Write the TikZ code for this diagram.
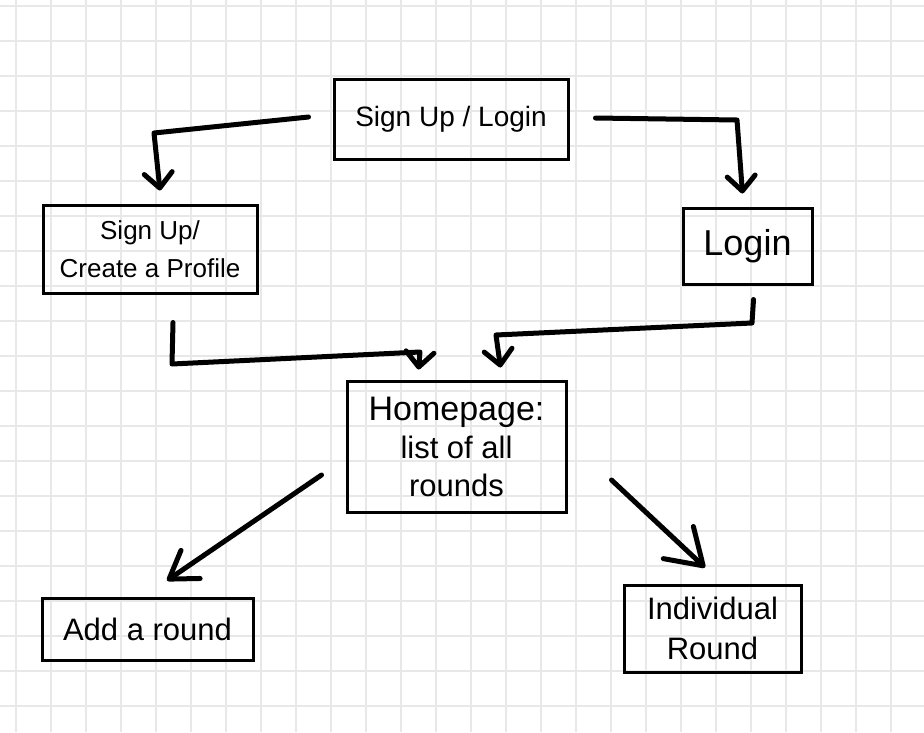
\documentclass[tikz,border=0pt]{standalone}
\usepackage{fontspec}
\setmainfont{Liberation Sans}
\usetikzlibrary{arrows.meta}
\definecolor{gridgray}{RGB}{232,232,232}

\begin{document}
\begin{tikzpicture}[
    x=1pt, y=-1pt,
    box/.style={rectangle, draw, line width=3pt, inner sep=0pt, align=center},
    flow/.style={line width=5pt, line cap=round, line join=round,
                 -{Straight Barb[round, length=15pt, width=28pt]}},
    gridline/.style={gridgray, line width=1.5pt}
]
\fill[white] (0,0) rectangle (924,732);
\useasboundingbox (0,0) rectangle (924,732);
\foreach \gx in {0,...,26}
    \draw[gridline] (16+35*\gx,0) -- (16+35*\gx,732);
\foreach \gy in {0,...,20}
    \draw[gridline] (0,6+35*\gy) -- (924,6+35*\gy);

\node[box, minimum width=234pt, minimum height=80pt, font=\fontsize{28}{32}\selectfont] (su) at (451,119) {Sign Up / Login};
\node[box, minimum width=214pt, minimum height=88pt, font=\fontsize{26}{38}\selectfont] (sp) at (150,249) {Sign Up/\\Create a Profile};
\node[box, minimum width=129pt, minimum height=76pt, font=\fontsize{36}{40}\selectfont] (lg) at (747.5,246) {Login};
\node[box, minimum width=219pt, minimum height=131pt, font=\fontsize{31}{38}\selectfont] (hp) at (456.5,446.5) {{\fontsize{34}{38}\selectfont Homepage:}\\list of all\\rounds};
\node[box, minimum width=211pt, minimum height=62pt, font=\fontsize{31}{34}\selectfont] (add) at (147.5,629) {Add a round};
\node[box, minimum width=177pt, minimum height=87pt, font=\fontsize{31}{40}\selectfont] (ind) at (712.5,628.5) {Individual\\Round};

\draw[flow] ([shift={(-24,-2)}]su.west) -- (154,133) -- ([shift={(10,-13)}]sp.north);
\draw[flow] ([shift={(26,-1)}]su.east) -- (737,120) -- ([shift={(-5,-13)}]lg.north);
\draw[flow] ([shift={(23,28)}]sp.south) -- (172,364) -- (420,352) -- ([shift={(-38,-10)}]hp.north);
\draw[flow] ([shift={(6,14)}]lg.south) -- (752,323) -- (496,335) -- ([shift={(44,-12)}]hp.north);
\draw[flow, -{Straight Barb[round, length=26pt, width=34pt]}] ([shift={(-24,28.5)}]hp.west) -- ([shift={(19.5,-16)}]add.north);
\draw[flow, -{Straight Barb[round, length=34pt, width=44pt]}] ([shift={(44,33.5)}]hp.east) -- ([shift={(-7.5,-16)}]ind.north);
\end{tikzpicture}
\end{document}
